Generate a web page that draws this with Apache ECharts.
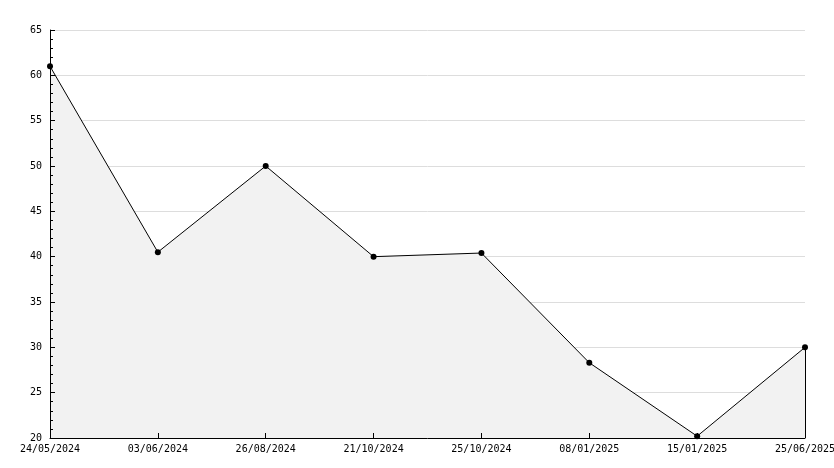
<!DOCTYPE html>
<html><head><meta charset="utf-8">
<script src="https://cdn.jsdelivr.net/npm/echarts@6/dist/echarts.min.js"></script>
<style>html,body{margin:0;padding:0;background:#fff}#c{width:834px;height:468px}</style>
</head><body><div id="c"></div>
<script>
const categories = ['24/05/2024','03/06/2024','26/08/2024','21/10/2024','25/10/2024','08/01/2025','15/01/2025','25/06/2025'];
const values = [61, 40.5, 50, 40, 40.4, 28.3, 20.2, 30];
const yMin = 20, yMax = 65, yStep = 5;
const lastIdx = categories.length - 1;

const chart = echarts.init(document.getElementById('c'), null, {renderer:'canvas'});
chart.setOption({
  animation:false,
  grid:{left:50,right:29,top:30,bottom:30,containLabel:false,outerBoundsMode:'none'},
  xAxis:{type:'category',data:categories,boundaryGap:false,z:10,
    axisLine:{lineStyle:{color:'#000',width:1}},
    axisTick:{inside:true,length:5,alignWithLabel:true,lineStyle:{color:'#000'}},
    axisLabel:{color:'#000',fontFamily:'DejaVu Sans Mono',fontSize:10,margin:6,interval:0,showMaxLabel:true,showMinLabel:true},
    splitLine:{show:false}},
  yAxis:[
   {type:'value',min:yMin,max:yMax,interval:yStep,z:0,position:'left',
    axisLine:{show:false},axisTick:{show:false},axisLabel:{show:false},
    splitLine:{show:true,lineStyle:{color:'#dddddd',width:1}}},
   {type:'value',min:yMin,max:yMax,interval:yStep,z:10,position:'left',offset:0,
    axisLine:{show:true,lineStyle:{color:'#000',width:1}},
    axisTick:{show:true,inside:true,length:5,lineStyle:{color:'#000'}},
    minorTick:{show:true,splitNumber:5,length:3,lineStyle:{color:'#000'}},
    axisLabel:{color:'#000',fontFamily:'DejaVu Sans Mono',fontSize:10,margin:8},
    splitLine:{show:false}}],
  series:[{type:'line',data:values,yAxisIndex:0,symbol:'circle',symbolSize:6,z:5,
    itemStyle:{color:'#000'},lineStyle:{color:'#000',width:1},
    areaStyle:{color:'#f2f2f2',opacity:1},
    markLine:{silent:true,symbol:'none',label:{show:false},
      lineStyle:{color:'#000',width:1,type:'solid'},
      data:[[{coord:[lastIdx, yMin]},{coord:[lastIdx, values[lastIdx]]}]]}}]
});
</script></body></html>
